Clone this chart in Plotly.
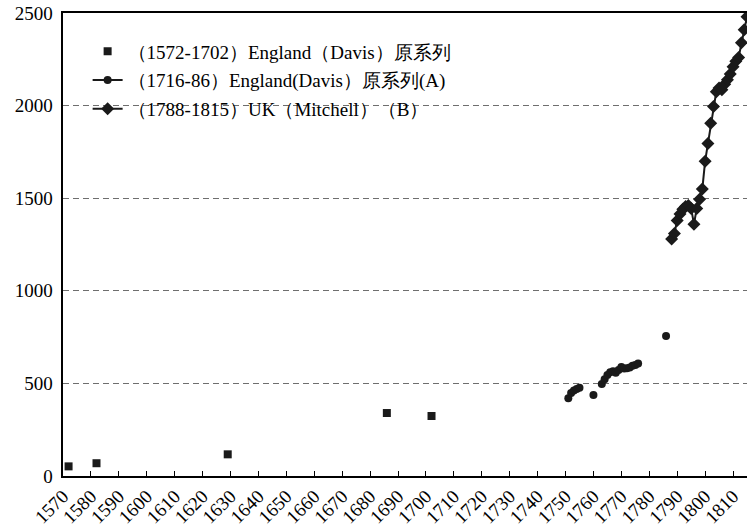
import plotly.graph_objects as go

# ---- data ----
davis_years = [1572, 1582, 1629, 1686, 1702]
davis_vals = [52, 69, 117, 340, 324]

a_years = [1751, 1752, 1753, 1754, 1755, 1756, 1757, 1758, 1759, 1760,
           1761, 1762, 1763, 1764, 1765, 1766, 1767, 1768, 1769, 1770,
           1771, 1772, 1773, 1774, 1775, 1776, 1777, 1778, 1779, 1780,
           1781, 1782, 1783, 1784, 1785, 1786]
a_vals = [420, 448, 462, 470, 476, None, None, None, None, 438,
          None, None, 497, 522, 545, 560, 566, 558, 572, 588,
          580, 582, 586, 595, 600, 608, None, None, None, None,
          None, None, None, None, None, 756]

b_years = [1788, 1789, 1790, 1791, 1792, 1793, 1794, 1795, 1796, 1797,
           1798, 1799, 1800, 1801, 1802, 1803, 1804, 1805, 1806, 1807,
           1808, 1809, 1810, 1811, 1812, 1813, 1814, 1815]
b_vals = [1280, 1310, 1380, 1415, 1440, 1455, 1460, 1445, 1360, 1445,
          1495, 1550, 1700, 1795, 1905, 1995, 2075, 2095, 2085, 2115,
          2140, 2170, 2210, 2240, 2260, 2340, 2410, 2480]

x_ticks = list(range(1570, 1811, 10))
y_ticks = [0, 500, 1000, 1500, 2000, 2500]

names = ["（1572-1702）England（Davis）原系列",
         "（1716-86）England(Davis）原系列(A)",
         "（1788-1815）UK（Mitchell）（B）"]

FONT = "Liberation Serif"
INK = "#1a1a1a"

fig = go.Figure()
fig.add_trace(go.Scatter(
    x=davis_years, y=davis_vals, mode="markers", name=names[0],
    legendgroup="g1",
    marker=dict(symbol="square", size=8, color=INK)))
fig.add_trace(go.Scatter(
    x=a_years, y=a_vals, mode="lines+markers", name=names[1],
    legendgroup="g2", connectgaps=False,
    line=dict(color=INK, width=2),
    marker=dict(symbol="circle", size=8, color=INK)))
fig.add_trace(go.Scatter(
    x=b_years, y=b_vals, mode="lines+markers", name=names[2],
    legendgroup="g3",
    line=dict(color=INK, width=2),
    marker=dict(symbol="diamond", size=10, color=INK)))

# white box behind the legend, covering the gridline
fig.add_shape(type="rect", xref="paper", yref="paper",
              x0=(82 - 63) / 684, x1=(591 - 63) / 684,
              y0=1 - (125 - 13) / 462.5, y1=1 - (28 - 13) / 462.5,
              fillcolor="white", line=dict(width=0), layer="between")

fig.update_layout(
    width=749, height=528,
    margin=dict(l=63, r=2, t=13, b=52),
    paper_bgcolor="white", plot_bgcolor="white",
    font=dict(family=FONT, size=19, color="black"),
    showlegend=True,
    legend=dict(x=0.036, y=0.958, xanchor="left", yanchor="top",
                bgcolor="rgba(0,0,0,0)", borderwidth=0,
                tracegroupgap=1, traceorder="grouped",
                font=dict(family=FONT, size=19, color="black")),
    xaxis=dict(range=[1570, 1815], tickmode="array", tickvals=x_ticks,
               ticktext=[str(v) for v in x_ticks],
               tickangle=-45, ticks="inside", ticklen=5, tickcolor="black",
               showline=True, linecolor="black", linewidth=1.5, mirror=True,
               showgrid=False, zeroline=False, automargin=False,
               tickfont=dict(family=FONT, size=19, color="black")),
    yaxis=dict(range=[0, 2500], tickmode="array", tickvals=y_ticks,
               ticktext=[str(v) + "\u00a0" for v in y_ticks],
               ticks="", showline=True, linecolor="black", linewidth=1.5,
               showgrid=True, gridcolor="#6e6e6e", gridwidth=1,
               griddash="6px,4px", zeroline=False, automargin=False,
               tickfont=dict(family=FONT, size=19, color="black")),
)

fig.write_html("out.html", config={"displayModeBar": False},
               post_script="document.body.style.margin='0px';document.body.style.padding='0px';")
